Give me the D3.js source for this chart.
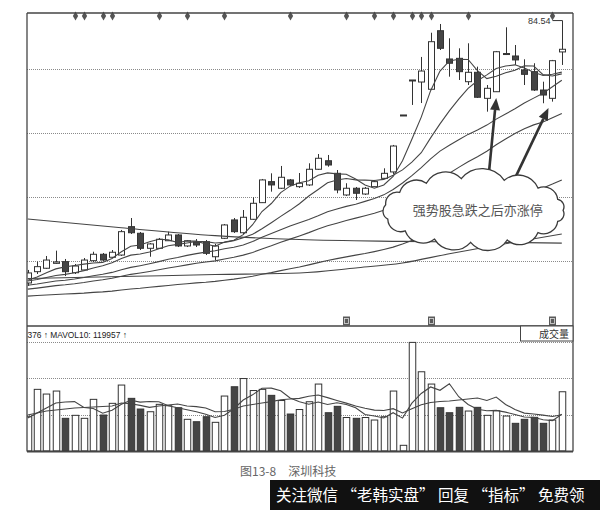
<!DOCTYPE html>
<html lang="zh">
<head>
<meta charset="utf-8">
<title>强势股急跌之后亦涨停</title>
<script src="https://cdn.jsdelivr.net/npm/d3@7/dist/d3.min.js"></script>
<style>
  html, body { margin: 0; padding: 0; background: #fff; }
  svg { display: block; }
</style>
</head>
<body>
<svg id="chart" width="600" height="510"></svg>
<script>
// ---------------- data ----------------
const opens = [59.94, 61.00, 61.32, 61.78, 61.94, 60.90, 61.16, 62.03, 62.63, 62.35,
  62.56, 65.22, 64.60, 63.19, 63.19, 63.90, 64.44, 63.41, 63.78, 63.81,
  62.40, 64.13, 65.85, 64.65, 65.91, 67.47, 69.44, 68.82, 69.60, 68.97,
  69.13, 70.60, 71.40, 70.22, 68.19, 68.82, 68.28, 68.97, 69.75, 70.35,
  75.69, 78.97, 78.78, 78.10, 83.59, 80.94, 81.00, 78.81, 79.69, 77.25,
  77.87, 81.41, 81.22, 79.91, 79.75, 78.03, 77.25, 81.60];
const highs = [61.16, 61.94, 62.47, 62.97, 62.19, 61.72, 62.28, 62.87, 62.75, 63.03,
  64.91, 66.03, 64.72, 63.69, 64.16, 64.75, 64.53, 63.97, 64.06, 63.97,
  63.60, 65.47, 66.03, 66.78, 67.97, 69.69, 70.22, 70.91, 69.69, 70.25,
  71.16, 72.03, 71.94, 70.53, 69.29, 68.94, 68.94, 69.60, 70.69, 72.88,
  75.69, 78.97, 81.13, 83.40, 84.22, 82.88, 81.94, 82.41, 80.22, 78.50,
  81.69, 83.91, 82.25, 80.91, 80.54, 78.81, 80.85, 84.54];
const lows = [59.66, 60.78, 61.25, 61.72, 60.59, 60.78, 61.06, 61.91, 62.00, 62.28,
  62.47, 64.53, 63.03, 62.40, 63.13, 63.88, 63.31, 63.31, 63.31, 62.56,
  62.09, 64.06, 64.63, 64.53, 65.85, 67.44, 68.50, 68.75, 69.03, 68.85,
  69.03, 70.53, 70.84, 68.35, 68.09, 67.72, 68.19, 68.94, 69.69, 70.16,
  75.69, 76.63, 76.81, 78.03, 81.78, 79.28, 78.97, 78.50, 77.28, 76.00,
  77.85, 81.31, 80.38, 78.50, 77.94, 76.79, 76.94, 80.38];
const closes = [60.88, 61.47, 62.09, 61.91, 61.00, 61.53, 62.09, 62.63, 62.09, 62.82,
  64.75, 64.65, 63.19, 63.60, 64.04, 64.44, 63.41, 63.90, 63.50, 62.72,
  63.41, 65.38, 64.75, 66.10, 67.41, 69.60, 69.13, 69.85, 69.13, 69.29,
  70.60, 71.63, 71.00, 68.66, 68.82, 68.35, 68.82, 69.44, 70.22, 72.78,
  75.69, 78.97, 79.81, 82.56, 81.94, 80.54, 79.75, 79.69, 77.35, 78.19,
  81.62, 81.45, 80.85, 79.50, 78.03, 77.56, 80.78, 81.85];

const ma5 = [60.20, 60.49, 60.90, 61.26, 61.45, 61.58, 61.71, 61.81, 61.87, 62.24,
  62.87, 63.39, 63.50, 63.80, 64.04, 63.98, 63.74, 63.88, 63.86, 63.60,
  63.39, 63.78, 63.95, 64.47, 65.40, 66.64, 67.39, 68.41, 69.02, 69.33,
  69.53, 70.04, 70.26, 70.17, 70.14, 69.69, 69.13, 68.82, 69.13, 69.92,
  71.39, 73.42, 75.49, 77.97, 79.80, 80.76, 80.92, 80.89, 79.85, 79.10,
  79.32, 79.65, 79.88, 80.31, 80.28, 79.47, 79.35, 79.54];
const ma10 = [60.12, 60.26, 60.46, 60.64, 60.75, 60.90, 61.10, 61.35, 61.56, 61.84,
  62.23, 62.55, 62.66, 62.84, 63.14, 63.43, 63.56, 63.69, 63.83, 63.82,
  63.69, 63.75, 63.91, 64.17, 64.50, 65.02, 65.59, 66.18, 66.75, 67.37,
  68.09, 68.71, 69.34, 69.60, 69.74, 69.61, 69.58, 69.54, 69.65, 70.03,
  70.54, 71.27, 72.15, 73.54, 74.85, 76.07, 77.17, 78.19, 78.90, 79.45,
  80.04, 80.28, 80.39, 80.09, 79.69, 79.39, 79.50, 79.71];
const ma20 = [59.73, 59.85, 59.99, 60.12, 60.20, 60.31, 60.45, 60.62, 60.76, 60.93,
  61.18, 61.40, 61.56, 61.74, 61.94, 62.16, 62.33, 62.53, 62.69, 62.83,
  62.96, 63.15, 63.29, 63.50, 63.82, 64.22, 64.58, 64.94, 65.28, 65.59,
  65.89, 66.24, 66.62, 66.88, 67.12, 67.32, 67.59, 67.86, 68.20, 68.70,
  69.31, 70.00, 70.75, 71.57, 72.30, 72.85, 73.37, 73.87, 74.28, 74.74,
  75.30, 75.78, 76.27, 76.81, 77.27, 77.73, 78.33, 78.95];
const ma30 = [59.36, 59.46, 59.57, 59.69, 59.77, 59.87, 59.99, 60.13, 60.24, 60.39,
  60.57, 60.75, 60.88, 61.02, 61.18, 61.35, 61.49, 61.64, 61.79, 61.90,
  62.01, 62.19, 62.35, 62.55, 62.80, 63.12, 63.42, 63.75, 64.05, 64.35,
  64.66, 65.01, 65.30, 65.54, 65.79, 66.02, 66.25, 66.47, 66.75, 67.07,
  67.44, 67.92, 68.47, 69.10, 69.70, 70.23, 70.78, 71.31, 71.77, 72.29,
  72.90, 73.43, 73.96, 74.40, 74.76, 75.03, 75.42, 75.82];
const ma60 = [58.71, 58.76, 58.81, 58.86, 58.90, 58.94, 58.99, 59.06, 59.11, 59.18,
  59.28, 59.38, 59.45, 59.54, 59.62, 59.71, 59.79, 59.87, 59.95, 60.01,
  60.09, 60.20, 60.30, 60.43, 60.57, 60.75, 60.91, 61.10, 61.27, 61.44,
  61.64, 61.85, 62.05, 62.22, 62.39, 62.55, 62.70, 62.88, 63.08, 63.30,
  63.59, 63.92, 64.27, 64.67, 65.06, 65.41, 65.76, 66.12, 66.43, 66.75,
  67.13, 67.50, 67.87, 68.22, 68.54, 68.85, 69.21, 69.60];
// long averages, read at a few points
const ma120Idx = [0, 10, 20, 29, 35, 40, 45, 50, 57];
const ma120 = [60.36, 60.54, 60.73, 60.88, 61.35, 61.82, 62.68, 63.47, 64.53];
const ma250Idx = [0, 10, 20, 29, 40, 50, 57];
const ma250 = [65.94, 65.11, 64.38, 64.01, 63.84, 63.75, 63.68];

const volumes = [113200, 203600, 188100, 198000, 107900, 117800, 107900, 170600, 118800, 157400,
  217800, 173900, 138600, 129700, 154100, 149500, 142900, 104600, 96700, 113200,
  94700, 181500, 212200, 239300, 199700, 203600, 183800, 166700, 122100, 137000,
  162700, 221100, 126400, 147500, 110600, 107900, 110600, 102300, 113200, 198000,
  18800, 358700, 261700, 221100, 142900, 126400, 144200, 132000, 144200, 117800,
  133000, 115500, 91400, 104600, 111200, 91400, 102300, 195700];
const mavol5 = [108900, 125400, 141900, 158400, 162000, 163000, 143900, 140600, 124700, 134600,
  154400, 167600, 161400, 163400, 162700, 149200, 142900, 136300, 129700, 121400,
  110600, 118100, 139600, 168300, 185500, 207200, 207600, 198700, 175200, 162700,
  154400, 162000, 153800, 159100, 153800, 142600, 120500, 115800, 108900, 126400,
  108600, 158100, 190100, 211500, 200600, 222100, 179200, 153500, 137900, 133000,
  134300, 128400, 120500, 112500, 111200, 103000, 100300, 121376];
const mavol10 = [118800, 125400, 132000, 135300, 138600, 141900, 143600, 145200, 146900, 148500,
  158700, 155800, 150800, 144200, 148800, 151800, 155400, 148800, 146500, 142200,
  129700, 130700, 137900, 148800, 153500, 158700, 163000, 169300, 171600, 173900,
  180800, 184800, 176200, 167000, 158100, 148500, 141200, 135000, 134000, 139900,
  125700, 139300, 152800, 160400, 163700, 165300, 168600, 171600, 174900, 166700,
  178200, 153800, 137000, 125100, 122100, 118500, 114200, 119957];

const priceGrid = [80, 74, 68, 62];
const volGrid = [120000, 240000, 360000];
const signalIdx = [5, 6, 8, 9, 14, 17, 21, 28, 34, 37, 39, 41, 42, 43, 47, 56];
const infoIdx = [34, 43, 56];
const highLabel = "84.54";
const volLegend = "376 \u2191  MAVOL10: 119957 \u2191";
const volTitle = "成交量";
const note = "强势股急跌之后亦涨停";
const caption = "图13-8　深圳科技";
const banner = "关注微信 “老韩实盘” 回复 “指标” 免费领";

// ---------------- layout ----------------
const INK = "#333", LINE = "#454545", GRID = "#8a8a8a";
const F = { left: 27, right: 573, top: 13, mainBottom: 326, volBottom: 451.5 };
const svg = d3.select("#chart");
const n = closes.length;
const idx = d3.range(n);

const x = d3.scaleLinear().domain([0, n - 1]).range([27.7, 561.8]);
const y = d3.scaleLinear().domain([62, 80]).range([261, 69]);
const yv = d3.scaleLinear().domain([0, 360000]).range([451, 342]);

const defs = svg.append("defs");
defs.append("clipPath").attr("id", "clipMain").append("rect")
  .attr("x", F.left).attr("y", F.top).attr("width", F.right - F.left).attr("height", F.mainBottom - F.top);
defs.append("clipPath").attr("id", "clipVol").append("rect")
  .attr("x", F.left).attr("y", F.mainBottom).attr("width", F.right - F.left).attr("height", F.volBottom - F.mainBottom);

svg.append("rect").attr("width", 600).attr("height", 510).attr("fill", "#fff");

// grid
svg.append("g").selectAll("line").data(priceGrid).join("line")
  .attr("x1", F.left).attr("x2", F.right)
  .attr("y1", d => Math.round(y(d)) + 0.5).attr("y2", d => Math.round(y(d)) + 0.5)
  .attr("stroke", GRID).attr("stroke-width", 1).attr("stroke-dasharray", "1,1");
svg.append("g").selectAll("line").data(volGrid).join("line")
  .attr("x1", F.left).attr("x2", F.right)
  .attr("y1", d => Math.round(yv(d)) + 0.5).attr("y2", d => Math.round(yv(d)) + 0.5)
  .attr("stroke", GRID).attr("stroke-width", 1).attr("stroke-dasharray", "1,1");

// candles
const cx = i => Math.round(x(i)) + 0.5;
const gMain = svg.append("g").attr("clip-path", "url(#clipMain)");
const candles = gMain.append("g").selectAll("g").data(idx).join("g");
candles.append("line")
  .attr("x1", cx).attr("x2", cx)
  .attr("y1", i => y(highs[i])).attr("y2", i => y(lows[i]))
  .attr("stroke", INK).attr("stroke-width", 1);
candles.append("rect")
  .attr("x", i => cx(i) - 3).attr("width", 6)
  .attr("y", i => y(Math.max(opens[i], closes[i])))
  .attr("height", i => Math.max(1, y(Math.min(opens[i], closes[i])) - y(Math.max(opens[i], closes[i]))))
  .attr("fill", i => closes[i] >= opens[i] ? "#fff" : "#454545")
  .attr("stroke", INK).attr("stroke-width", 1);

// moving averages
const lineFull = d3.line().x((d, i) => x(i)).y(d => y(d));
const lineSparse = d3.line().x(d => x(d[0])).y(d => y(d[1])).curve(d3.curveMonotoneX);
gMain.append("g").selectAll("path").data([ma5, ma10, ma20, ma30, ma60]).join("path")
  .attr("d", lineFull).attr("fill", "none").attr("stroke", LINE).attr("stroke-width", 1.1);
gMain.append("g").selectAll("path").data([d3.zip(ma120Idx, ma120), d3.zip(ma250Idx, ma250)]).join("path")
  .attr("d", lineSparse).attr("fill", "none").attr("stroke", LINE).attr("stroke-width", 1.1);

// signal diamonds along the top
svg.append("g").selectAll("path").data(signalIdx).join("path")
  .attr("transform", i => `translate(${cx(i)},16)`)
  .attr("d", d3.symbol().type(d3.symbolDiamond).size(24))
  .attr("fill", "#555");

// info markers near the bottom of the price panel
const info = svg.append("g").selectAll("g").data(infoIdx).join("g")
  .attr("transform", i => `translate(${cx(i) - 3.5},316.5)`);
info.append("rect").attr("width", 7).attr("height", 9).attr("fill", "#5a5a5a");
info.append("rect").attr("x", 1.5).attr("y", 2).attr("width", 4).attr("height", 5)
  .attr("fill", "none").attr("stroke", "#ddd").attr("stroke-width", 0.8);

// highest price label
const hiI = n - 1;
svg.append("line").attr("x1", cx(hiI) - 10).attr("x2", cx(hiI)).attr("y1", y(84.54)).attr("y2", y(84.54))
  .attr("stroke", INK).attr("stroke-width", 1);
svg.append("text").attr("x", cx(hiI) - 12).attr("y", y(84.54) + 3.5).attr("text-anchor", "end")
  .attr("font-family", "Liberation Sans, Arial, sans-serif").attr("font-size", 9).attr("fill", "#333")
  .text(highLabel);

// annotation arrows (drawn before the cloud so their tails hide behind it)
const arrows = [{ from: [49.15, 69.6], to: [50.0, 77.28] }, { from: [51.92, 69.6], to: [55.58, 76.34] }];
const gA = svg.append("g");
arrows.forEach(a => {
  const x1 = x(a.from[0]), y1 = y(a.from[1]), x2 = x(a.to[0]), y2 = y(a.to[1]);
  const ang = Math.atan2(y2 - y1, x2 - x1), L = 12, hw = 5;
  const bx = x2 - L * Math.cos(ang), by = y2 - L * Math.sin(ang);
  gA.append("line").attr("x1", x1).attr("y1", y1).attr("x2", bx).attr("y2", by)
    .attr("stroke", "#333").attr("stroke-width", 2.6);
  gA.append("path").attr("d", `M${x2},${y2}L${bx + hw * Math.sin(ang)},${by - hw * Math.cos(ang)}L${bx - hw * Math.sin(ang)},${by + hw * Math.cos(ang)}Z`)
    .attr("fill", "#333");
});

// cloud callout
const cloud = { iFrom: 37.1, iTo: 58.1, pTop: 70.5, pBottom: 63.0 };
const ccx = (x(cloud.iFrom) + x(cloud.iTo)) / 2, ccy = (y(cloud.pTop) + y(cloud.pBottom)) / 2;
const crx = (x(cloud.iTo) - x(cloud.iFrom)) / 2 - 9, cry = (y(cloud.pBottom) - y(cloud.pTop)) / 2 - 8;
const cAng = [0, 20, 44, 68, 92, 116, 140, 164, 190, 214, 238, 262, 290, 316, 340];
const pts = cAng.map(a => [ccx + crx * Math.cos(a * Math.PI / 180), ccy + cry * Math.sin(a * Math.PI / 180)]);
let cp = `M${pts[0][0]},${pts[0][1]}`;
pts.forEach((p, k) => {
  const q = pts[(k + 1) % pts.length];
  const chord = Math.hypot(q[0] - p[0], q[1] - p[1]);
  const r = chord * 0.62;
  cp += `A${r},${r} 0 0 1 ${q[0]},${q[1]}`;
});
cp += "Z";
svg.append("path").attr("d", cp).attr("fill", "#fff").attr("stroke", "#3a3a3a").attr("stroke-width", 1.3);
svg.append("text").attr("x", ccx + 4).attr("y", ccy + 5).attr("text-anchor", "middle")
  .attr("font-family", "Noto Sans CJK SC, sans-serif").attr("font-size", 13).attr("fill", "#555")
  .text(note);

// volume panel
const gVol = svg.append("g").attr("clip-path", "url(#clipVol)");
gVol.append("g").selectAll("rect").data(idx).join("rect")
  .attr("x", i => cx(i) - 3.25).attr("width", 6.5)
  .attr("y", i => yv(volumes[i])).attr("height", i => yv(0) - yv(volumes[i]))
  .attr("fill", i => closes[i] >= opens[i] ? "#fff" : "#454545")
  .attr("stroke", INK).attr("stroke-width", 1);
const lineVol = d3.line().x((d, i) => x(i)).y(d => yv(d));
gVol.append("g").selectAll("path").data([mavol5, mavol10]).join("path")
  .attr("d", lineVol).attr("fill", "none").attr("stroke", LINE).attr("stroke-width", 1.1);

// frames
const fr = svg.append("g").attr("fill", "none").attr("stroke", "#444");
fr.append("line").attr("x1", F.left).attr("x2", F.right).attr("y1", F.top).attr("y2", F.top).attr("stroke-width", 1.5);
fr.append("line").attr("x1", F.left).attr("x2", F.left).attr("y1", F.top).attr("y2", F.volBottom).attr("stroke-width", 1.3);
fr.append("line").attr("x1", F.right).attr("x2", F.right).attr("y1", F.top).attr("y2", F.volBottom).attr("stroke-width", 1.3);
fr.append("line").attr("x1", F.left).attr("x2", F.right).attr("y1", F.mainBottom).attr("y2", F.mainBottom).attr("stroke-width", 1.3);
fr.append("line").attr("x1", F.left).attr("x2", F.right).attr("y1", F.volBottom).attr("y2", F.volBottom).attr("stroke-width", 2.2);

// volume legend and title box
svg.append("text").attr("x", F.left + 0.5).attr("y", 337.5)
  .attr("font-family", "Liberation Sans, Arial, sans-serif").attr("font-size", 8.4).attr("fill", "#222")
  .text(volLegend);
svg.append("rect").attr("x", 520.5).attr("y", F.mainBottom).attr("width", F.right - 520.5).attr("height", 15)
  .attr("fill", "#fff").attr("stroke", "#444").attr("stroke-width", 1);
svg.append("text").attr("x", F.right - 4).attr("y", 338)
  .attr("text-anchor", "end").attr("font-family", "Noto Sans CJK SC, sans-serif").attr("font-size", 10).attr("fill", "#333")
  .text(volTitle);

// caption and banner
svg.append("text").attr("x", 240).attr("y", 476)
  .attr("font-family", "Noto Sans CJK SC, sans-serif").attr("font-size", 12).attr("fill", "#666")
  .text(caption);
svg.append("rect").attr("x", 270).attr("y", 480).attr("width", 330).attr("height", 30).attr("fill", "#111");
svg.append("text").attr("x", 276).attr("y", 500.5)
  .attr("font-family", "Noto Sans CJK SC, sans-serif").attr("font-size", 15.5).attr("fill", "#fff")
  .text(banner);
</script>
</body>
</html>
